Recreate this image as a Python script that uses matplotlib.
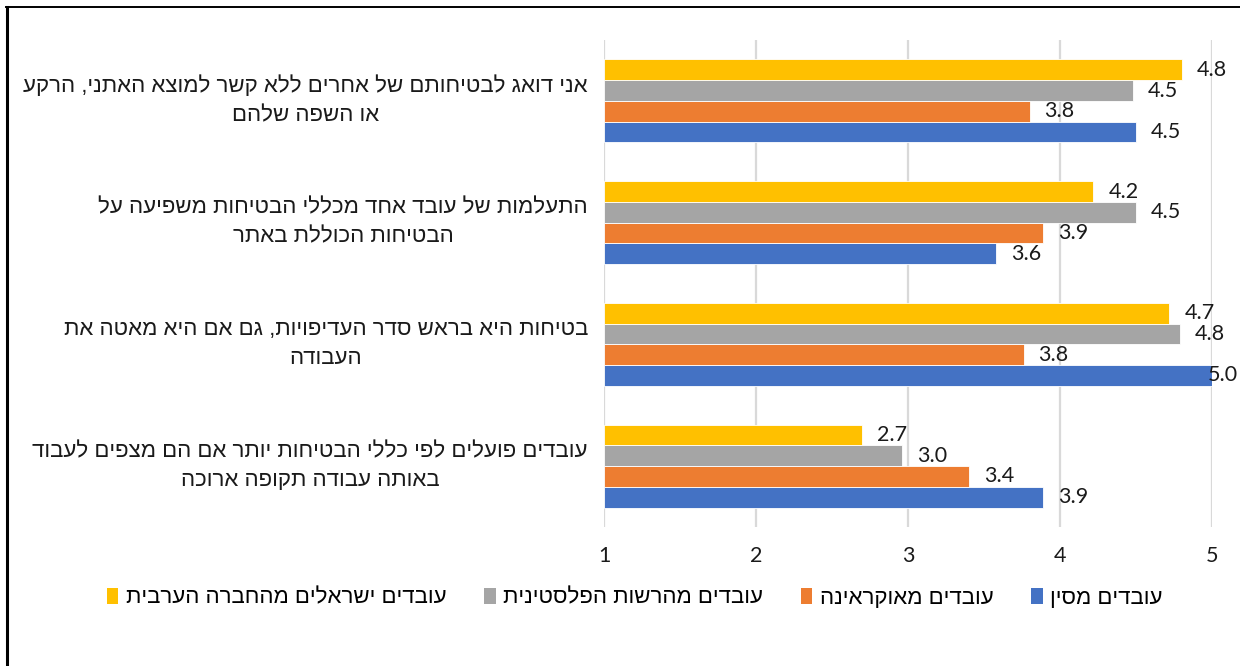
import matplotlib.pyplot as plt
from matplotlib.patches import Patch
from matplotlib.lines import Line2D

# statements (each split into its two display lines)
statements = [
    ["אני דואג לבטיחותם של אחרים ללא קשר למוצא האתני, הרקע", "או השפה שלהם"],
    ["התעלמות של עובד אחד מכללי הבטיחות משפיעה על", "הבטיחות הכוללת באתר"],
    ["בטיחות היא בראש סדר העדיפויות, גם אם היא מאטה את", "העבודה"],
    ["עובדים פועלים לפי כללי הבטיחות יותר אם הם מצפים לעבוד", "באותה עבודה תקופה ארוכה"],
]
groups = [
    "עובדים מסין",
    "עובדים מאוקראינה",
    "עובדים מהרשות הפלסטינית",
    "עובדים ישראלים מהחברה הערבית",
]
china = [4.50, 3.58, 5.00, 3.89]
ukraine = [3.80, 3.89, 3.76, 3.40]
palestinian = [4.48, 4.50, 4.79, 2.96]
arab_israeli = [4.80, 4.22, 4.72, 2.70]
x_ticks = [1, 2, 3, 4, 5]

series = [china, ukraine, palestinian, arab_israeli]
colors = ["#4472C4", "#ED7D31", "#A5A5A5", "#FFC000"]

HEB = ["Liberation Sans", "DejaVu Sans"]
NUM = ["Lato", "Liberation Sans", "DejaVu Sans"]
W, H = 1240, 666
XMIN, XMAX = 1, 5
BAR_H = 0.17


def rtl(s):
    # matplotlib lays text out left-to-right, so flip Hebrew for display
    return s[::-1]


fig = plt.figure(figsize=(W / 100, H / 100), dpi=100)
ax = fig.add_axes([604 / W, 1 - 527 / H, (1212 - 604) / W, (527 - 40) / H])

n = len(statements)
labels = []
for j, (vals, col) in enumerate(zip(series, colors)):
    off = (1.5 - j) * BAR_H
    for i, v in enumerate(vals):
        ax.barh(i + off, v - XMIN, left=XMIN, height=BAR_H, color=col,
                edgecolor="white", linewidth=0.6, zorder=3)
        t = ax.annotate(f"{v:.1f}", (v, i + off), xytext=(15, 0),
                        textcoords="offset pixels", ha="left", va="center",
                        fontsize=15.5, family=NUM, color="#1a1a1a",
                        annotation_clip=False, zorder=4)
        labels.append(t)

ax.set_xlim(XMIN, XMAX)
ax.set_ylim(n - 0.5, -0.5)
ax.set_xticks(x_ticks)
ax.set_xticklabels([str(t) for t in x_ticks], fontsize=15.5, family=NUM,
                   color="#1a1a1a")
ax.tick_params(axis="x", length=0, pad=14)
ax.set_yticks([])
for s in ax.spines.values():
    s.set_visible(False)
ax.grid(axis="x", color="#D9D9D9", linewidth=1.6, zorder=0)

# statement labels, right-aligned block with centred lines
for i, lines in enumerate(statements):
    y_fig = ax.transData.transform((XMIN, i))[1] / H
    fig.text(588 / W, y_fig, "\n".join(rtl(l) for l in lines),
             ha="right", va="center", multialignment="center",
             fontsize=16, family=HEB, color="#1a1a1a", linespacing=1.5)

handles = [Patch(facecolor=c, edgecolor="none") for c in colors]
order = [3, 2, 1, 0]
fig.legend([handles[k] for k in order], [rtl(groups[k]) for k in order],
           loc="center", bbox_to_anchor=(635 / W, 1 - 598 / H), ncol=4,
           frameon=False, handlelength=0.5, handleheight=0.75,
           handletextpad=0.35, columnspacing=1.7,
           prop={"family": HEB, "size": 16})

# keep value labels inside the chart area
fig.canvas.draw()
renderer = fig.canvas.get_renderer()
for t in labels:
    bb = t.get_window_extent(renderer)
    if bb.x1 > W - 2:
        dx = bb.x1 - (W - 2)
        t.set_position((15 - dx, 0))

# chart frame (left and top edges)
fig.add_artist(Line2D([7 / W, 7 / W], [0, 1 - 7 / H], color="black",
                      linewidth=2.2, transform=fig.transFigure))
fig.add_artist(Line2D([6 / W, 1], [1 - 7 / H, 1 - 7 / H], color="black",
                      linewidth=1.4, transform=fig.transFigure))

fig.savefig("out.png", dpi=100)
